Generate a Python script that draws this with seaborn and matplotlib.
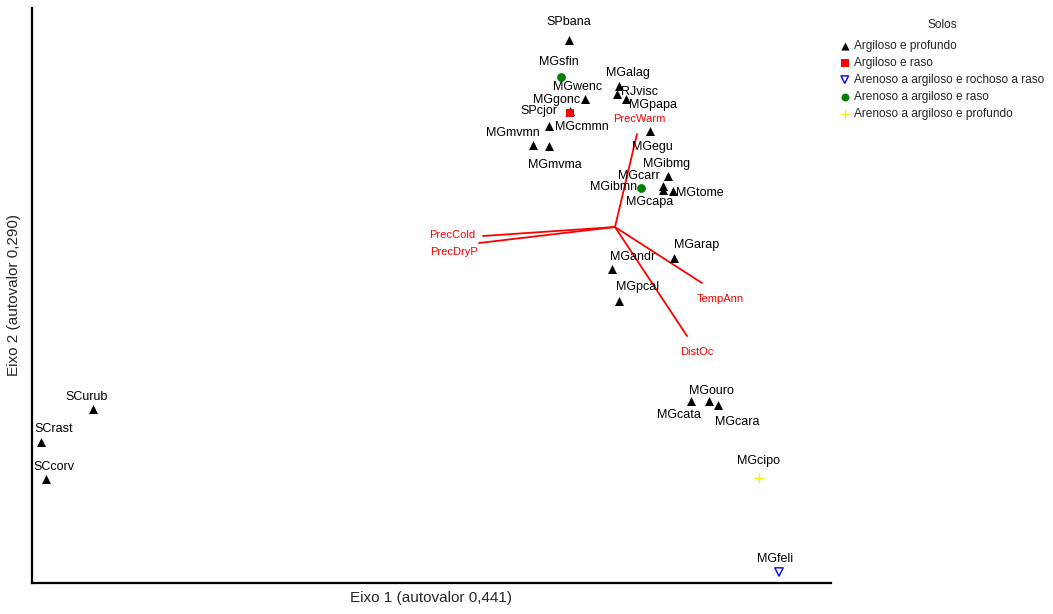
import numpy as np
import pandas as pd
import matplotlib
matplotlib.use("Agg")
import matplotlib.pyplot as plt
from matplotlib.markers import MarkerStyle
import seaborn as sns

# site scores (eixo 1, eixo 2)
sites = ["SPbana", "MGsfin", "MGalag", "RJvisc", "MGpapa", "MGwenc", "MGgonc",
         "MGcmmn", "SPcjor", "MGmvmn", "MGmvma", "MGegu", "MGibmg", "MGcarr",
         "MGcapa", "MGtome", "MGibmn", "MGarap", "MGandr", "MGpcal", "MGouro",
         "MGcata", "MGcara", "MGcipo", "MGfeli", "SCurub", "SCrast", "SCcorv"]
eixo1 = [-0.46, -0.54, 0.04, 0.02, 0.11, -0.30, -0.45,
         -0.45, -0.66, -0.82, -0.66, 0.35, 0.53, 0.48,
         0.48, 0.58, 0.26, 0.59, -0.03, 0.04, 0.94,
         0.76, 1.03, 1.44, 1.64, -5.22, -5.74, -5.69]
eixo2 = [1.87, 1.50, 1.41, 1.33, 1.28, 1.28, 1.16,
         1.14, 1.01, 0.82, 0.81, 0.96, 0.51, 0.41,
         0.37, 0.36, 0.39, -0.31, -0.42, -0.74, -1.74,
         -1.74, -1.78, -2.51, -3.45, -1.82, -2.15, -2.52]
solos = ["Argiloso e profundo", "Arenoso a argiloso e raso", "Argiloso e profundo",
         "Argiloso e profundo", "Argiloso e profundo", "Argiloso e profundo",
         "Argiloso e profundo", "Argiloso e raso", "Argiloso e profundo",
         "Argiloso e profundo", "Argiloso e profundo", "Argiloso e profundo",
         "Argiloso e profundo", "Argiloso e profundo", "Argiloso e profundo",
         "Argiloso e profundo", "Arenoso a argiloso e raso", "Argiloso e profundo",
         "Argiloso e profundo", "Argiloso e profundo", "Argiloso e profundo",
         "Argiloso e profundo", "Argiloso e profundo", "Arenoso a argiloso e profundo",
         "Arenoso a argiloso e rochoso a raso", "Argiloso e profundo",
         "Argiloso e profundo", "Argiloso e profundo"]

# environmental vectors
variaveis = ["PrecWarm", "PrecCold", "PrecDryP", "TempAnn", "DistOc"]
vec1 = [0.22, -1.32, -1.36, 0.87, 0.72]
vec2 = [0.93, -0.09, -0.16, -0.56, -1.09]

categorias = ["Argiloso e profundo", "Argiloso e raso",
              "Arenoso a argiloso e rochoso a raso",
              "Arenoso a argiloso e raso", "Arenoso a argiloso e profundo"]

df = pd.DataFrame({"site": sites, "x": eixo1, "y": eixo2, "solo": solos})

# label offsets in pixels
lab_off = {"SPbana": (0, 18), "MGsfin": (-2, 15), "MGalag": (9, 13), "RJvisc": (23, 2),
           "MGpapa": (27, -6), "MGwenc": (-7, 12), "MGgonc": (-13, 11), "MGcmmn": (12, -14),
           "SPcjor": (-10, 15), "MGmvmn": (-20, 12), "MGmvma": (6, -19), "MGegu": (2, -16),
           "MGibmg": (-1, 12), "MGcarr": (-24, 10), "MGcapa": (-13, -12), "MGtome": (27, -2),
           "MGibmn": (-27, 1), "MGarap": (23, 13), "MGandr": (21, 12), "MGpcal": (19, 14),
           "MGouro": (2, 10), "MGcata": (-12, -14), "MGcara": (19, -17), "MGcipo": (-1, 17),
           "MGfeli": (-4, 13), "SCurub": (-6, 12), "SCrast": (13, 13), "SCcorv": (8, 12)}
vec_off = {"PrecWarm": (2, 15, "center"), "PrecCold": (-8, 1, "right"),
           "PrecDryP": (-1, -9, "right"), "TempAnn": (-5, -16, "left"),
           "DistOc": (10, -16, "center")}

estilo = {
    "Argiloso e profundo": dict(marker="^", color="black", s=42),
    "Argiloso e raso": dict(marker="s", color="red", s=40),
    "Arenoso a argiloso e rochoso a raso": dict(marker=MarkerStyle("v", fillstyle="none"), color="blue", s=36),
    "Arenoso a argiloso e raso": dict(marker="o", color="green", s=40),
    "Arenoso a argiloso e profundo": dict(marker="+", color="#f2f200", s=50),
}

sns.set_style("white")
plt.rcParams["font.family"] = ["Liberation Sans", "DejaVu Sans"]

fig = plt.figure(figsize=(10.53, 6.14), dpi=100)
ax = fig.add_axes([32 / 1053, 1 - 583 / 614, (831 - 32) / 1053, 575 / 614])

# vectors
for v, a, b in zip(variaveis, vec1, vec2):
    ax.plot([0, a], [0, b], color="red", lw=1.3, zorder=1)
    dx, dy, ha = vec_off[v]
    ax.annotate(v, (a, b), xytext=(dx, dy), textcoords="offset pixels",
                ha=ha, va="center", color="red", fontsize=8)

for cat in categorias:
    sub = df[df["solo"] == cat]
    st = estilo[cat]
    sns.scatterplot(data=sub, x="x", y="y", ax=ax, marker=st["marker"], color=st["color"],
                    s=st["s"], linewidth=1 if cat in ("Arenoso a argiloso e rochoso a raso",
                                                       "Arenoso a argiloso e profundo") else 0,
                    label=cat, zorder=3)

for s, a, b in zip(sites, eixo1, eixo2):
    dx, dy = lab_off[s]
    ax.annotate(s, (a, b), xytext=(dx, dy), textcoords="offset pixels",
                ha="center", va="center", fontsize=9, color="black")

ax.set_xlim(-5.83, 2.16)
ax.set_ylim(-3.56, 2.19)
ax.set_xticks([])
ax.set_yticks([])
ax.set_xlabel("Eixo 1 (autovalor 0,441)", fontsize=11, labelpad=6)
ax.set_ylabel("Eixo 2 (autovalor 0,290)", fontsize=11, labelpad=8)
for side in ("top", "right"):
    ax.spines[side].set_visible(False)
for side in ("left", "bottom"):
    ax.spines[side].set_linewidth(1.6)
    ax.spines[side].set_color("black")

h, l = ax.get_legend_handles_labels()
ax.get_legend().remove()
leg = fig.legend(h, l, title="Solos", loc="upper left", bbox_to_anchor=(837 / 1053, 1 - 17 / 614),
                 frameon=False, fontsize=8.6, title_fontsize=8.6, handletextpad=0.35,
                 handlelength=0.9, labelspacing=0.42, markerscale=0.9, borderaxespad=0,
                 borderpad=0.2)
leg._legend_box.sep = 6

fig.savefig("out.png", dpi=100)
